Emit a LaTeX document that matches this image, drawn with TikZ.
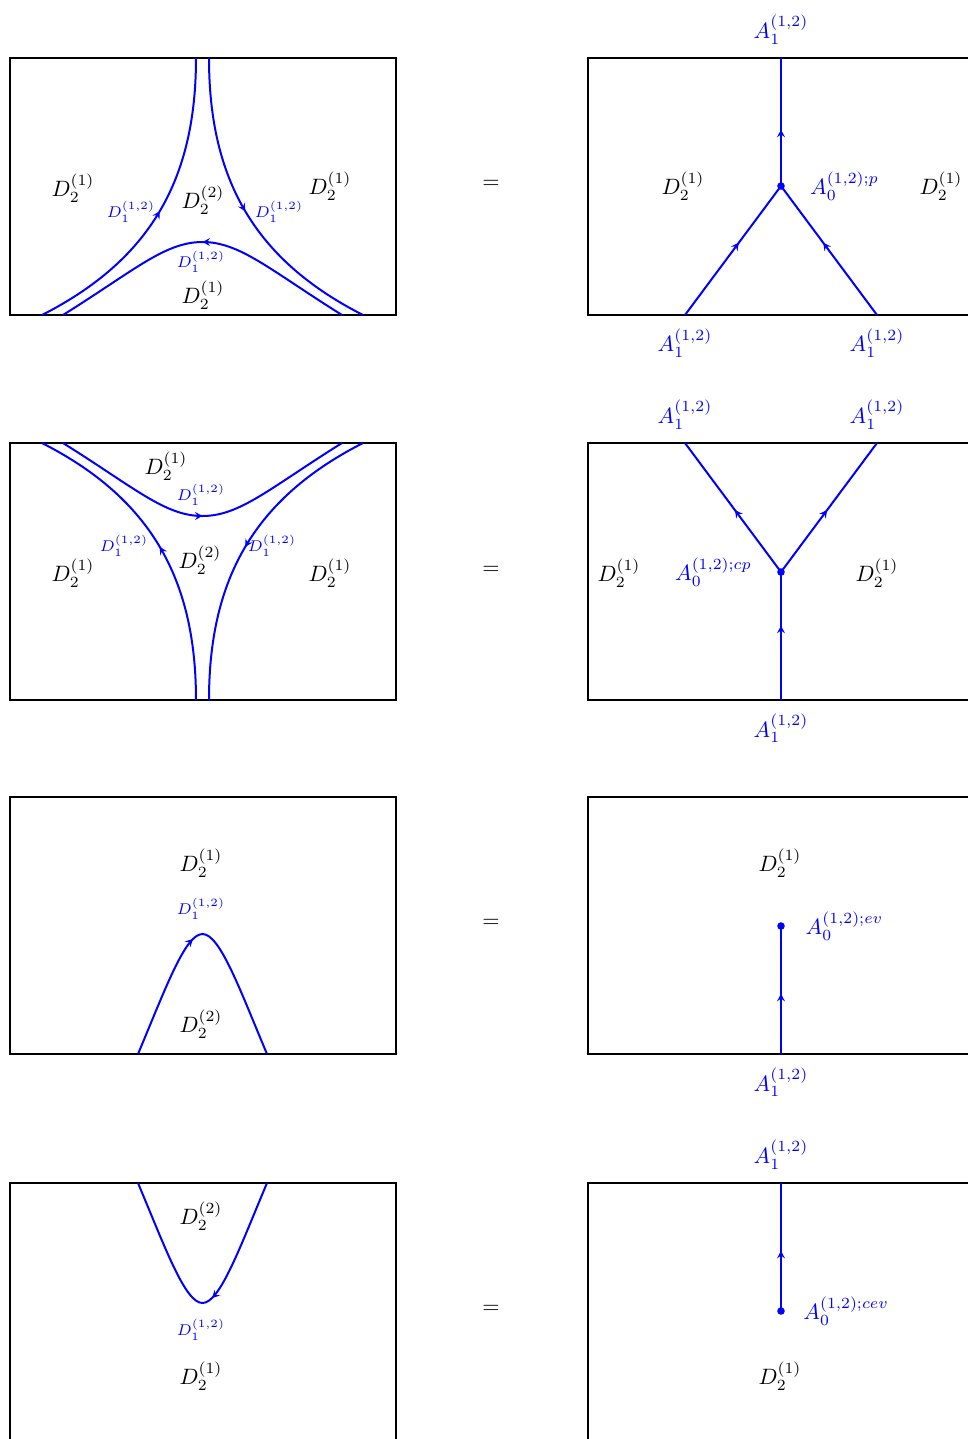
\documentclass[tikz,border=0pt]{standalone}
\usepackage{amsmath,amssymb}
\usetikzlibrary{arrows.meta,positioning,decorations.markings}

\begin{document}
\begin{tikzpicture}[
  x=0.45pt, y=-0.45pt,
  panel/.style={draw, line width=0.8pt},
  wall/.style={blue, line width=0.9pt},
  mid/.style={postaction={decorate}, decoration={markings, mark=at position #1 with {\arrow{>}}}},
  mid/.default=0.5,
  reg/.style={inner sep=1pt},
  wlbl/.style={blue, font=\scriptsize, inner sep=1pt},
  alb/.style={blue, inner sep=1pt},
  vtx/.style={circle, fill=blue, inner sep=0pt, minimum size=3.4pt},
  >={Stealth[length=3.4pt, width=3.6pt, inset=1.3pt]}, node distance=5pt
]
\useasboundingbox (0,0) rectangle (968,1439);

% row 1: trivalent vertex (p)
\draw[panel] (10,58) rectangle (396,315);
\draw[wall, mid] (42,315) .. controls (150,260) and (196,180) .. (196,58);
\draw[wall, mid] (209,58) .. controls (209,180) and (255,260) .. (363,315);
\draw[wall, mid] (342,315) .. controls (270,270) and (240,242) .. (202.5,242)
                         .. controls (165,242) and (135,270) .. (63,315);
\node[reg] (d11) at (73,188) {$D_2^{(1)}$};
\node[reg] (d12) at (203,200) {$D_2^{(2)}$};
\node[reg] (d13) at (330,186) {$D_2^{(1)}$};
\node[reg] (d14) at (203,295) {$D_2^{(1)}$};
\node[wlbl] (e11) at (131,212) {$D_1^{(1,2)}$};
\node[wlbl] (e12) at (279,212) {$D_1^{(1,2)}$};
\node[wlbl] (e13) at (201,262) {$D_1^{(1,2)}$};
\node (eq1) at (491,184) {$=$};

\draw[panel] (588,58) rectangle (974,315);
\node[vtx] (p1) at (781,186) {};
\coordinate (p1t) at (781,58);
\coordinate (p1l) at (685,315);
\coordinate (p1r) at (877,315);
\draw[wall, mid=0.44] (p1.center) -- (p1t);
\draw[wall, mid=0.56] (p1l) -- (p1.center);
\draw[wall, mid=0.56] (p1r) -- (p1.center);
\node[alb, above=of p1t] (a11) {$A_1^{(1,2)}$};
\node[alb, below=of p1l] (a12) {$A_1^{(1,2)}$};
\node[alb, below=of p1r] (a13) {$A_1^{(1,2)}$};
\node[alb, right=10pt of p1] (a10) {$A_0^{(1,2);p}$};
\node[reg] (q11) at (683,186) {$D_2^{(1)}$};
\node[reg] (q12) at (941,186) {$D_2^{(1)}$};

% row 2: trivalent vertex (cp)
\draw[panel] (10,443) rectangle (396,700);
\draw[wall, mid] (196,700) .. controls (196,578) and (150,498) .. (42,443);
\draw[wall, mid] (363,443) .. controls (255,498) and (209,578) .. (209,700);
\draw[wall, mid] (63,443) .. controls (135,488) and (165,516) .. (202.5,516)
                       .. controls (240,516) and (270,488) .. (342,443);
\node[reg] (d21) at (166,466) {$D_2^{(1)}$};
\node[reg] (d22) at (200,560) {$D_2^{(2)}$};
\node[reg] (d23) at (73,573) {$D_2^{(1)}$};
\node[reg] (d24) at (330,573) {$D_2^{(1)}$};
\node[wlbl] (e21) at (201,495) {$D_1^{(1,2)}$};
\node[wlbl] (e22) at (124,546) {$D_1^{(1,2)}$};
\node[wlbl] (e23) at (272,546) {$D_1^{(1,2)}$};
\node (eq2) at (491,570) {$=$};

\draw[panel] (588,443) rectangle (974,700);
\node[vtx] (p2) at (781,572) {};
\coordinate (p2b) at (781,700);
\coordinate (p2l) at (685,443);
\coordinate (p2r) at (877,443);
\draw[wall, mid=0.58] (p2b) -- (p2.center);
\draw[wall, mid=0.48] (p2.center) -- (p2l);
\draw[wall, mid=0.48] (p2.center) -- (p2r);
\node[alb, below=of p2b] (a21) {$A_1^{(1,2)}$};
\node[alb, above=of p2l] (a22) {$A_1^{(1,2)}$};
\node[alb, above=of p2r] (a23) {$A_1^{(1,2)}$};
\node[alb, left=10pt of p2] (a20) {$A_0^{(1,2);cp}$};
\node[reg] (q21) at (619,573) {$D_2^{(1)}$};
\node[reg] (q22) at (877,573) {$D_2^{(1)}$};

% row 3: end point (ev)
\draw[panel] (10,797) rectangle (396,1054);
\draw[wall, mid=0.46] (138,1054) .. controls (165,990) and (185,934) .. (202.5,934)
                               .. controls (220,934) and (240,990) .. (267,1054);
\node[reg] (d31) at (201,863) {$D_2^{(1)}$};
\node[reg] (d32) at (201,1024) {$D_2^{(2)}$};
\node[wlbl] (e31) at (201,909) {$D_1^{(1,2)}$};
\node (eq3) at (491,923) {$=$};

\draw[panel] (588,797) rectangle (974,1054);
\node[vtx] (p3) at (781,926) {};
\coordinate (p3b) at (781,1054);
\draw[wall, mid=0.47] (p3b) -- (p3.center);
\node[alb, below=of p3b] (a31) {$A_1^{(1,2)}$};
\node[alb, right=8pt of p3] (a30) {$A_0^{(1,2);ev}$};
\node[reg] (q31) at (780,863) {$D_2^{(1)}$};

% row 4: end point (cev)
\draw[panel] (10,1183) rectangle (396,1440);
\draw[wall, mid=0.46] (267,1183) .. controls (240,1247) and (220,1303) .. (202.5,1303)
                               .. controls (185,1303) and (165,1247) .. (138,1183);
\node[reg] (d41) at (201,1216) {$D_2^{(2)}$};
\node[reg] (d42) at (201,1376) {$D_2^{(1)}$};
\node[wlbl] (e41) at (201,1330) {$D_1^{(1,2)}$};
\node (eq4) at (491,1309) {$=$};

\draw[panel] (588,1183) rectangle (974,1440);
\node[vtx] (p4) at (781,1311) {};
\coordinate (p4t) at (781,1183);
\draw[wall, mid=0.47] (p4.center) -- (p4t);
\node[alb, above=of p4t] (a41) {$A_1^{(1,2)}$};
\node[alb, right=7pt of p4] (a40) {$A_0^{(1,2);cev}$};
\node[reg] (q41) at (780,1376) {$D_2^{(1)}$};
\end{tikzpicture}
\end{document}
